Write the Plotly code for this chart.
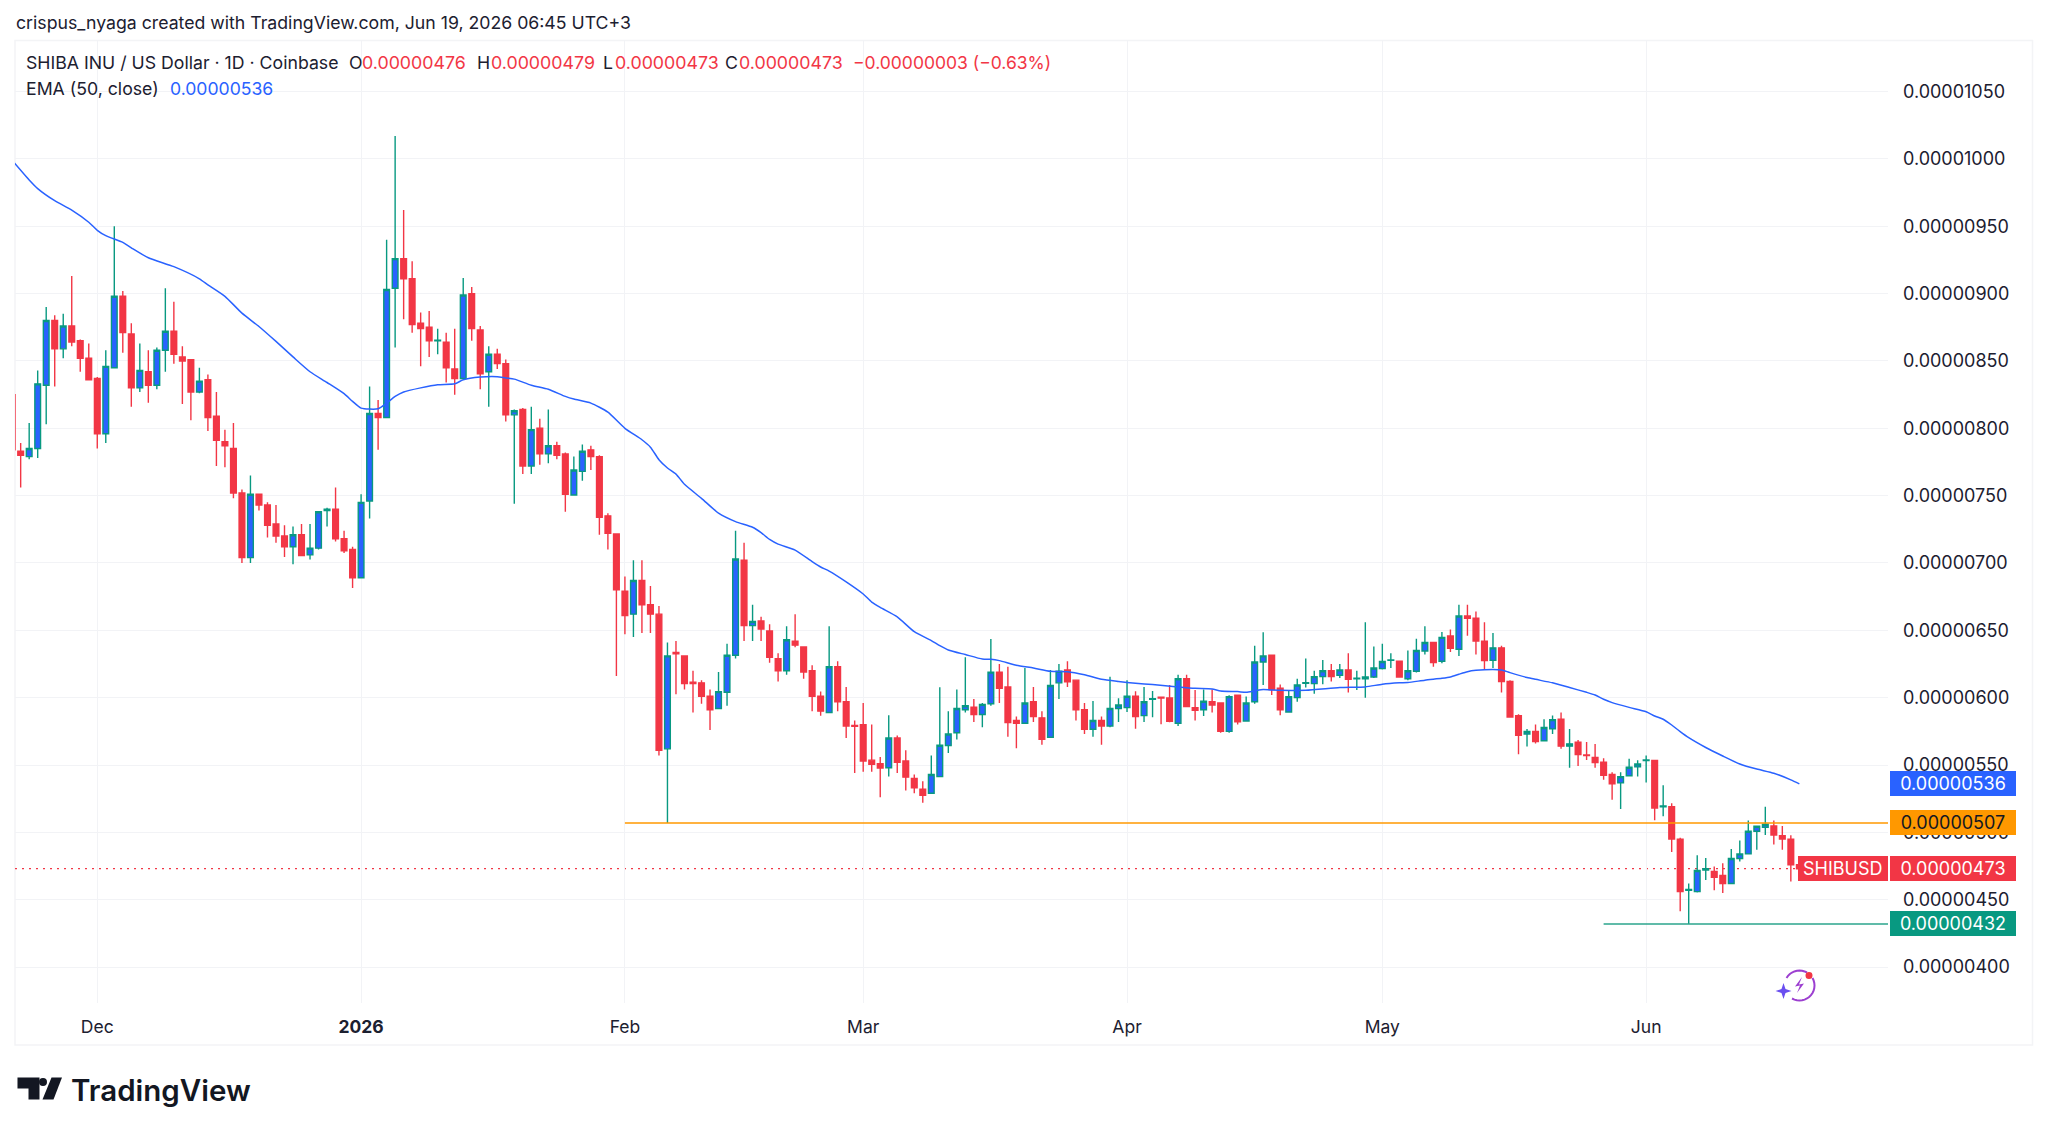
import numpy as np
import pandas as pd
import plotly.graph_objects as go

# Daily SHIB/USD candles, quoted in units of 1e-8 USD
UNIT = 1e-8
first_day = "2025-11-21"
opens = [
    825, 783, 779, 785, 832, 880, 859, 876, 865, 852,
    837, 796, 845, 898, 870, 830, 842, 832, 858, 872, 853, 851, 827, 836, 809, 790, 785, 752, 704, 751, 743, 729, 720, 712, 721, 706, 711, 739, 740, 718, 710,
    689, 746, 811, 808, 904, 926, 911, 878, 875, 865, 864, 844, 837, 900, 873, 842, 855, 848, 810, 814, 772, 800, 781, 787, 781, 750.5, 768, 784, 779, 735, 721.5,
    679, 662, 687, 669, 662, 562, 633.5, 631, 611.5, 611, 601, 592, 604, 631.5, 702, 653.5, 657, 649.5, 629, 620, 642, 637.7, 620, 601, 589, 623, 597, 579.3,
    580, 553.6, 551, 548, 570, 553, 540, 532, 529, 541.4, 564.5, 574, 591, 593, 587.5, 595.5, 619, 608, 583, 581, 597, 585, 570.6, 611, 620.6, 613, 591, 576.6, 583, 579, 592,
    592.6, 601, 586.7, 598.8, 600.3, 599.8, 581, 614, 592.6, 591, 597, 596, 575, 601.8, 582.7, 597, 626.5, 631.5, 607, 589.4, 600, 610.7, 610.4, 615.6, 620, 616.6, 620.6, 614, 614, 615.4,
    621.6, 627.7, 627, 614, 619.6, 634.7, 641, 627, 645.8, 636, 660.6, 659, 642, 627.7, 637, 612, 586.7, 573, 575, 568, 576.8, 584, 564, 567, 557.5, 555.7, 552, 543, 536.7, 542, 548.6,
    553.3, 553.3, 519, 519, 495, 457, 456, 472, 471, 468, 462, 480.6, 484, 500.8, 503.8, 504.8, 497.6, 495, 476,
]
highs = [
    825, 789, 804, 843, 890, 884, 885, 913, 866, 863,
    838, 858, 950, 902, 878, 863, 858, 860, 904, 894, 861, 851, 845, 840, 827, 799, 804, 754.5, 765, 751, 745, 743, 728, 727, 729, 729, 738.5, 741, 756, 724, 712,
    751, 831, 821, 940, 1017, 962, 924, 886, 887, 874, 871, 874, 911.5, 905, 876, 861, 859, 851, 814, 815, 816, 807, 814, 790, 782, 779, 788, 787, 780, 737, 721.5,
    690, 702, 702, 683, 668, 641, 642, 631, 620, 613, 606, 619, 640, 724, 715, 669, 660, 654.5, 633, 653, 662, 637.7, 624, 604.5, 653, 627, 608, 583,
    596, 580, 556, 587, 572, 561, 543, 538, 557, 607.7, 590, 606, 630, 599, 596, 643.6, 625, 623, 586, 622, 608, 590, 620.6, 625, 627, 613, 596, 597.6, 586, 615.6, 599.6,
    613, 604.7, 608, 605, 600.3, 609.4, 617, 617, 605.7, 606, 606, 596, 601.8, 602, 600.8, 638.6, 648.5, 631.5, 609.7, 605.7, 614, 629, 620, 628, 625, 625, 633, 620, 656, 638,
    640, 633, 627, 635, 643.8, 653, 641, 648.8, 650.7, 669, 669, 664, 656, 648, 638.6, 613, 587.7, 576.8, 580, 584, 586.7, 589, 576.8, 568.6, 567, 565.6, 555, 544.6, 544.6, 554.7, 553.5,
    557, 553.3, 535, 521.6, 496, 462, 483, 481, 474.6, 477, 487.7, 494, 508.8, 504.5, 519, 508.8, 504.8, 497.9, 479,
]
lows = [
    784, 756, 777, 778, 803, 831, 852, 861, 842, 836,
    785, 789, 845, 856, 816, 827, 819, 829, 842, 848, 818, 806, 826, 798, 772, 771, 748, 700, 700, 739, 719, 715, 704.5, 699, 705.5, 702.5, 710, 727, 716, 707.5, 681.5,
    689, 733, 784, 808, 860, 881, 871, 846, 853, 855, 834, 825, 837, 865, 829, 816, 844, 805, 744, 766, 766, 773, 774, 777, 738, 750.5, 761, 769, 721, 710, 616,
    647, 645, 648, 648, 557, 507, 602.6, 606, 589, 595.5, 576, 592, 594, 629, 642, 642, 642, 626, 612, 617, 637.5, 614, 590, 586.5, 589, 590, 570, 544,
    545, 545, 526, 541.5, 544, 531, 529, 522, 529, 541.4, 559, 569, 589, 582, 578, 594, 596, 571, 562.5, 581, 582, 565, 570.6, 599, 608, 583, 573, 571, 565, 578, 582,
    589.4, 577, 582, 585.5, 580.3, 581.8, 579, 593, 583, 586.4, 589, 574, 574, 580, 582.2, 595.4, 609.4, 602, 587, 589, 597, 607.5, 603, 610, 612, 614.6, 603.8, 605.7, 600, 614.6,
    621, 622, 615.4, 613, 618.6, 632, 623, 625.5, 634, 631, 646, 632, 620.6, 622, 603.8, 585.5, 558, 563.7, 566, 567.7, 573, 562, 548, 549.3, 553.7, 548, 539, 524.3, 517.4, 541.4, 541.4,
    537, 509, 512, 485.5, 441.5, 432, 455.3, 464.7, 457, 455, 462, 478.3, 484, 487, 498, 491, 487, 463.5, 473,
]
closes = [
    784, 780, 785, 833, 880, 859, 876, 864, 852, 836,
    796, 846, 898, 871, 830, 843, 832, 858, 872, 855, 850, 827, 835, 808, 791, 787, 752, 704, 751, 743, 728, 720, 712, 721, 705.5, 711, 738, 740, 718, 709, 689,
    745, 811, 808, 903, 926, 911, 877, 874, 865, 865.5, 845, 837, 899, 874, 840.5, 855, 848, 810, 813, 772, 799, 781, 787, 780, 751, 769, 783, 779, 734, 722, 680,
    661, 687, 669, 662, 561, 631, 632.5, 610.5, 610.5, 601, 591, 604.5, 631.5, 703, 653.5, 656.5, 651, 630, 620, 643, 639, 619, 601, 590, 623, 597, 579, 578.8,
    553, 550.6, 547.7, 570, 552, 541, 533, 527.6, 543, 564.7, 573, 592, 594, 587.4, 595, 619, 607, 581.5, 581, 596, 586, 569, 609, 619.6, 611.7, 591, 576.6, 583, 579, 592, 594.6,
    601, 586, 597, 599.3, 599.8, 582.5, 614, 593.4, 590.7, 597.3, 594.6, 575, 600.8, 582, 596, 626.5, 631, 606, 591, 600.8, 609.4, 611.2, 615.6, 620, 615.6, 620.6, 613.6, 614.4, 615.4, 622,
    626.8, 628, 615.4, 620, 635, 641, 626, 644.8, 636.6, 660.6, 659, 642, 627.5, 637, 612, 585.7, 572, 575, 567.4, 577.8, 583.7, 564, 565.7, 557.7, 557, 551.8, 542.4, 536, 541.4, 548.3, 550.8,
    553.8, 518, 519.6, 495, 456, 457.6, 471.7, 473, 466.7, 462, 480.6, 484, 500.8, 504.5, 506, 498, 495, 476, 473,
]

# 50-day EMA of the close, sampled along the chart
ema_dates = [
    "2025-11-21", "2025-11-23", "2025-11-24", "2025-11-26", "2025-11-28", "2025-11-30",
    "2025-12-01", "2025-12-02", "2025-12-04", "2025-12-05", "2025-12-07", "2025-12-10", "2025-12-13", "2025-12-14",
    "2025-12-16", "2025-12-18", "2025-12-20", "2025-12-22", "2025-12-24", "2025-12-26", "2025-12-28", "2025-12-30", "2025-12-31",
    "2026-01-01", "2026-01-03", "2026-01-04", "2026-01-05", "2026-01-06", "2026-01-08", "2026-01-10", "2026-01-12", "2026-01-13",
    "2026-01-15", "2026-01-17", "2026-01-18", "2026-01-19", "2026-01-21", "2026-01-23", "2026-01-25", "2026-01-26", "2026-01-28", "2026-01-30",
    "2026-02-01", "2026-02-03", "2026-02-04", "2026-02-05", "2026-02-06", "2026-02-07", "2026-02-08", "2026-02-10", "2026-02-12", "2026-02-14",
    "2026-02-16", "2026-02-17", "2026-02-18", "2026-02-19", "2026-02-21", "2026-02-23", "2026-02-24", "2026-02-25", "2026-02-27",
    "2026-03-01", "2026-03-02", "2026-03-03", "2026-03-05", "2026-03-07", "2026-03-09", "2026-03-10", "2026-03-11", "2026-03-13", "2026-03-15", "2026-03-16", "2026-03-17",
    "2026-03-19", "2026-03-21", "2026-03-23", "2026-03-25", "2026-03-27", "2026-03-29", "2026-03-31",
    "2026-04-02", "2026-04-04", "2026-04-07", "2026-04-09", "2026-04-11", "2026-04-12", "2026-04-14", "2026-04-15", "2026-04-16", "2026-04-17", "2026-04-18", "2026-04-22", "2026-04-26", "2026-04-29",
    "2026-05-01", "2026-05-03", "2026-05-04", "2026-05-06", "2026-05-08", "2026-05-09", "2026-05-10", "2026-05-11", "2026-05-12", "2026-05-14", "2026-05-15", "2026-05-16", "2026-05-18", "2026-05-19", "2026-05-21", "2026-05-23", "2026-05-25", "2026-05-26",
    "2026-05-27", "2026-05-28", "2026-05-30", "2026-06-01", "2026-06-02", "2026-06-03", "2026-06-04", "2026-06-05", "2026-06-06", "2026-06-08", "2026-06-10", "2026-06-12", "2026-06-14", "2026-06-16", "2026-06-18", "2026-06-19",
]
ema_values = [
    999, 984.4, 978, 969, 962, 953,
    947, 943, 938, 934, 926.6, 920, 911, 906.5,
    898, 885.5, 875.6, 864.5, 853, 842, 834, 825.7, 820,
    815, 814.5, 818.7, 823.7, 827, 830, 832.3, 833, 836,
    838, 838.3, 837.3, 836.5, 832, 829, 823.7, 821.7, 818.7, 812,
    800, 791.5, 786, 776.7, 770.5, 766, 758.4, 748, 737, 730.7,
    726.5, 722.5, 717.5, 714, 709.6, 701, 697, 694, 686,
    677, 671, 667, 660, 649, 642.4, 638.6, 635.4, 632, 628.7, 628.5, 627.5,
    624, 622, 619.6, 619.3, 617, 613.6, 612,
    610.7, 609.7, 608, 607, 606.5, 605, 604.5, 604, 605, 606, 605.7, 605.5, 607.5, 608,
    610, 611, 611.2, 613, 614.4, 615.4, 617.4, 619.3, 620.3, 621, 620.6, 618.6, 615, 613.6, 611, 607.5, 604, 602,
    598.8, 596.3, 592.8, 589.6, 586.4, 584, 579.7, 574.8, 570.3, 563, 556.7, 550.8, 547, 543.9, 539, 536,
]

# Price levels marked on the chart
orange_level = 507
orange_from = "2026-02-01"
green_level = 432
green_from = "2026-05-27"
last_close = 473
ema_last = 536

# Axis ticks
price_ticks = [400, 450, 500, 550, 600, 650, 700, 750, 800, 850, 900, 950, 1000, 1050]
month_ticks = ["2025-12-01", "2026-01-01", "2026-02-01", "2026-03-01", "2026-04-01", "2026-05-01", "2026-06-01"]
month_labels = ["Dec", "<b>2026</b>", "Feb", "Mar", "Apr", "May", "Jun"]
x_range = ["2025-11-21 08:00", "2026-06-29 10:00"]
y_range = [373.3, 1088.3]

W, H = 2048, 1134
PANE_L, PANE_R, PANE_T, PANE_B = 15, 1888, 39.5, 1003

RED = "#f23645"
GREEN = "#089981"
BLUE = "#2962ff"
ORANGE = "#ff9800"
GRID = "#f2f3f6"
INK = "#1c2030"
FONT = "Inter"


def fx(px):
    return (px - PANE_L) / (PANE_R - PANE_L)


def fy(py):
    return (PANE_B - py) / (PANE_B - PANE_T)


def path(points, close=False):
    d = "M " + " L ".join(f"{fx(x):.5f},{fy(y):.5f}" for x, y in points)
    return d + (" Z" if close else "")


def price(values):
    return [v * UNIT for v in values]


days = pd.date_range(first_day, periods=len(opens), freq="D")

fig = go.Figure()
fig.add_trace(go.Candlestick(
    x=days,
    open=price(opens), high=price(highs), low=price(lows), close=price(closes),
    increasing=dict(fillcolor=BLUE, line=dict(color=GREEN, width=1.4)),
    decreasing=dict(fillcolor=RED, line=dict(color=RED, width=1.4)),
    whiskerwidth=0, hoverinfo="skip", showlegend=False,
))
fig.add_trace(go.Scatter(
    x=ema_dates, y=price(ema_values), mode="lines",
    line=dict(color=BLUE, width=1.5, shape="spline", smoothing=0.6),
    hoverinfo="skip", showlegend=False,
))
for start, level, color, width in [(orange_from, orange_level, ORANGE, 1.5), (green_from, green_level, "#2ba58c", 1.5)]:
    fig.add_trace(go.Scatter(
        x=[start, x_range[1]], y=price([level, level]), mode="lines",
        line=dict(color=color, width=width), hoverinfo="skip", showlegend=False,
    ))

shapes = [
    # frame round the chart and the time scale
    dict(type="rect", xref="paper", yref="paper", x0=fx(15), x1=fx(2032.5), y0=fy(1045), y1=fy(40),
         line=dict(color="#f3f4f6", width=1.5), layer="below"),
    # dotted line at the last close
    dict(type="line", xref="x", yref="y", x0=x_range[0], x1=days[-1], y0=last_close * UNIT, y1=last_close * UNIT,
         line=dict(color=RED, width=1.2, dash="2px,5px"), layer="below"),
]

# TradingView mark, bottom left
logo = "#131722"
shapes += [
    dict(type="path", xref="paper", yref="paper", fillcolor=logo, line=dict(width=0),
         path=path([(17.5, 1077.5), (39.5, 1077.5), (39.5, 1099.5), (28.5, 1099.5), (28.5, 1088.5), (17.5, 1088.5)], True)),
    dict(type="path", xref="paper", yref="paper", fillcolor=logo, line=dict(width=0),
         path=path([(51.5, 1077.5), (62, 1077.5), (53.5, 1099.5), (42.5, 1099.5)], True)),
    dict(type="circle", xref="paper", yref="paper", fillcolor=logo, line=dict(width=0),
         x0=fx(39), x1=fx(47), y0=fy(1086), y1=fy(1078)),
]

# Spark badge near the last candle
cx, cy, r = 1799.5, 985.5, 15
ring_upper = [(cx + r * np.cos(t), cy - r * np.sin(t)) for t in np.radians(np.arange(60, 160, 10))]
ring_lower = [(cx + r * np.cos(t), cy - r * np.sin(t)) for t in np.radians(np.arange(240, 400, 10))]
shapes += [
    dict(type="path", xref="paper", yref="paper", line=dict(color="#9c3fd0", width=2), path=path(ring_upper)),
    dict(type="path", xref="paper", yref="paper", line=dict(color="#9c3fd0", width=2), path=path(ring_lower)),
    dict(type="path", xref="paper", yref="paper", fillcolor="#9c3fd0", line=dict(width=0),
         path=path([(1802, 977), (1795, 986.5), (1800, 985.5), (1797, 993), (1804, 983.5), (1799, 984.5)], True)),
    dict(type="path", xref="paper", yref="paper", fillcolor="#6a4ff0", line=dict(width=0),
         path=path([(1783.5, 983), (1785.5, 989), (1791.5, 991), (1785.5, 993), (1783.5, 999), (1781.5, 993), (1775.5, 991), (1781.5, 989)], True)),
    dict(type="circle", xref="paper", yref="paper", fillcolor=RED, line=dict(width=0),
         x0=fx(1805.5), x1=fx(1812.5), y0=fy(979), y1=fy(972)),
]


def label(text, x, y, color=INK, size=17.7, weight=None):
    font = dict(family=FONT, size=size, color=color)
    if weight:
        font["weight"] = weight
    return dict(text=text, xref="paper", yref="paper", x=fx(x), y=fy(y), xanchor="left", yanchor="middle",
                showarrow=False, font=font)


def price_tag(value, x, width, fill, color="#ffffff", text=None):
    return dict(text=text or f"{value * UNIT:.8f}", xref="paper", yref="y", x=fx(x), y=value * UNIT,
                xanchor="left", yanchor="middle", width=width, height=25, align="center", valign="middle",
                bgcolor=fill, borderpad=0, borderwidth=0, showarrow=False,
                font=dict(family=FONT, size=18, color=color))


annotations = [
    label("crispus_nyaga created with TradingView.com, Jun 19, 2026 06:45 UTC+3", 14, 22),
    label("SHIBA INU / US Dollar · 1D · Coinbase", 23.5, 62.5),
    label("O", 346.5, 62.5), label("0.00000476", 360, 62.5, RED, 17.8),
    label("H", 475, 62.5), label("0.00000479", 488.5, 62.5, RED, 17.8),
    label("L", 601, 62.5), label("0.00000473", 613, 62.5, RED, 17.8),
    label("C", 723, 62.5), label("0.00000473", 737, 62.5, RED, 17.8),
    label("−0.00000003 (−0.63%)", 851, 62.5, RED, 17.5),
    label("EMA (50, close)", 23.5, 88.5),
    label("0.00000536", 168, 88.5, BLUE, 17.6),
    label("TradingView", 69, 1090, "#131722", 29.5, 600),
    price_tag(ema_last, 1889.5, 126, BLUE),
    price_tag(orange_level, 1889.5, 126, ORANGE, color="#131722"),
    price_tag(last_close, 1889.5, 126, RED),
    price_tag(last_close, 1798, 89.5, RED, text="SHIBUSD"),
    price_tag(green_level, 1889.5, 126, GREEN),
]

fig.update_layout(
    width=W, height=H,
    margin=dict(l=PANE_L, r=W - PANE_R, t=PANE_T, b=H - PANE_B, pad=0),
    paper_bgcolor="#ffffff", plot_bgcolor="#ffffff",
    font=dict(family=FONT, color=INK),
    boxgap=0.33, boxgroupgap=0,
    shapes=shapes, annotations=annotations, showlegend=False,
    xaxis=dict(
        type="date", range=x_range, rangeslider=dict(visible=False),
        tickmode="array", tickvals=month_ticks, ticktext=month_labels,
        showgrid=True, gridcolor=GRID, gridwidth=1.3, zeroline=False, showline=False,
        ticks="", tickfont=dict(family=FONT, size=17.5, color=INK), ticklabelstandoff=11,
    ),
    yaxis=dict(
        side="right", range=price(y_range),
        tickmode="array", tickvals=price(price_ticks), tickformat=".8f",
        showgrid=True, gridcolor=GRID, gridwidth=1.3, zeroline=False, showline=False,
        ticks="", tickfont=dict(family=FONT, size=18, color=INK), ticklabelstandoff=14,
    ),
)

fig.write_html("out.html")
